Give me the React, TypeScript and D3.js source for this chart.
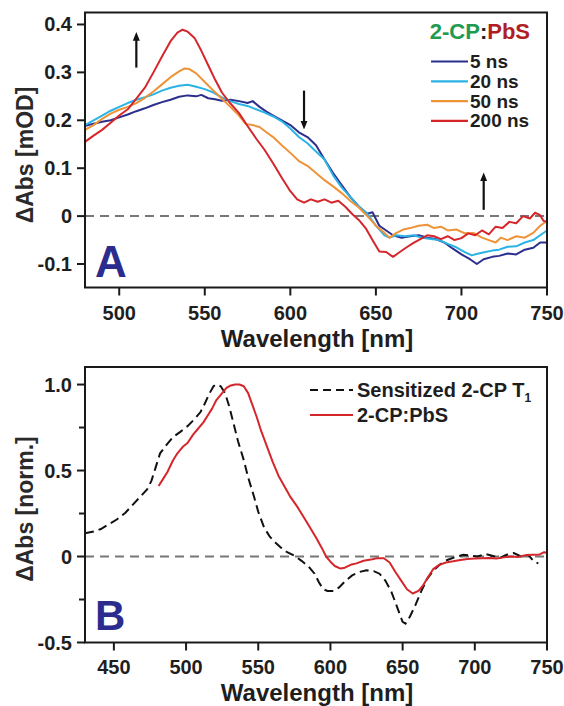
import React from "react";
import * as d3 from "d3";

// ---------- DATA ----------
const xTicksA = [500, 550, 600, 650, 700, 750];
const yTicksA = [0.4, 0.3, 0.2, 0.1, 0, -0.1];
const yTickLabelsA = ["0.4", "0.3", "0.2", "0.1", "0", "-0.1"];
const xTicksB = [450, 500, 550, 600, 650, 700, 750];
const yTicksB = [1.0, 0.5, 0, -0.5];
const yTickLabelsB = ["1.0", "0.5", "0", "-0.5"];
const yMinorTicksB = [0.75, 0.25, -0.25];

const seriesNamesA = ["5 ns", "20 ns", "50 ns", "200 ns"];
const seriesColorsA = ["#2b2e8c", "#2bb3e6", "#ef9338", "#d4262b"];

const s5ns: [number, number][] = [[480,0.188],[485,0.193],[490,0.197],[495,0.2],[500,0.206],[505,0.212],[510,0.219],[515,0.225],[520,0.232],[525,0.238],[530,0.243],[535,0.249],[540,0.252],[545,0.25],[548,0.253],[552,0.246],[556,0.244],[560,0.241],[565,0.243],[570,0.24],[575,0.236],[578,0.24],[582,0.228],[586,0.218],[590,0.21],[595,0.2],[600,0.19],[605,0.175],[610,0.165],[615,0.148],[620,0.118],[625,0.09],[630,0.065],[635,0.04],[640,0.02],[645,0.005],[648,0.008],[652,-0.02],[656,-0.03],[660,-0.04],[665,-0.045],[670,-0.042],[675,-0.04],[680,-0.045],[685,-0.048],[690,-0.055],[695,-0.068],[700,-0.08],[705,-0.09],[709,-0.1],[713,-0.09],[718,-0.085],[722,-0.083],[727,-0.078],[732,-0.08],[737,-0.07],[742,-0.066],[746,-0.055],[750,-0.055]];
const s20ns: [number, number][] = [[480,0.19],[485,0.2],[490,0.21],[495,0.22],[500,0.228],[505,0.236],[510,0.243],[515,0.248],[520,0.254],[525,0.262],[530,0.268],[535,0.272],[540,0.274],[545,0.27],[550,0.265],[555,0.258],[560,0.248],[565,0.24],[570,0.234],[575,0.23],[580,0.223],[585,0.216],[590,0.208],[595,0.198],[600,0.183],[605,0.165],[610,0.152],[615,0.135],[620,0.118],[625,0.085],[630,0.06],[635,0.04],[640,0.02],[645,0.005],[650,-0.02],[655,-0.04],[658,-0.045],[662,-0.04],[667,-0.042],[672,-0.04],[677,-0.045],[682,-0.048],[687,-0.05],[692,-0.058],[697,-0.065],[702,-0.075],[706,-0.082],[710,-0.078],[714,-0.075],[718,-0.072],[722,-0.07],[727,-0.064],[732,-0.063],[737,-0.055],[742,-0.05],[746,-0.04],[750,-0.03]];
const s50ns: [number, number][] = [[480,0.18],[485,0.19],[490,0.203],[495,0.214],[500,0.222],[505,0.228],[510,0.236],[515,0.247],[520,0.26],[525,0.275],[530,0.29],[535,0.302],[538,0.308],[541,0.307],[545,0.298],[550,0.28],[555,0.262],[560,0.245],[565,0.228],[570,0.21],[574,0.192],[578,0.19],[582,0.186],[586,0.175],[590,0.165],[595,0.148],[600,0.132],[605,0.115],[610,0.105],[615,0.09],[620,0.075],[625,0.062],[630,0.048],[635,0.032],[640,0.018],[645,0.0],[650,-0.02],[655,-0.035],[658,-0.045],[662,-0.035],[666,-0.028],[670,-0.025],[675,-0.02],[680,-0.018],[684,-0.025],[688,-0.022],[692,-0.03],[697,-0.028],[702,-0.036],[707,-0.035],[712,-0.045],[716,-0.05],[720,-0.055],[723,-0.045],[727,-0.05],[732,-0.042],[737,-0.045],[742,-0.035],[746,-0.02],[750,-0.01]];
const s200ns: [number, number][] = [[480,0.155],[485,0.168],[490,0.18],[495,0.195],[500,0.21],[505,0.223],[510,0.245],[515,0.268],[520,0.3],[525,0.333],[530,0.365],[534,0.383],[537,0.389],[540,0.385],[544,0.372],[548,0.345],[552,0.315],[556,0.285],[560,0.258],[565,0.235],[570,0.215],[575,0.188],[580,0.162],[585,0.138],[590,0.11],[595,0.08],[600,0.052],[604,0.035],[608,0.028],[612,0.035],[616,0.03],[620,0.035],[624,0.028],[628,0.032],[632,0.02],[636,0.005],[640,-0.008],[644,-0.025],[648,-0.05],[652,-0.074],[656,-0.075],[660,-0.085],[664,-0.075],[668,-0.065],[672,-0.056],[676,-0.048],[680,-0.04],[684,-0.042],[688,-0.048],[692,-0.042],[696,-0.05],[700,-0.046],[704,-0.036],[708,-0.04],[712,-0.03],[716,-0.038],[720,-0.022],[724,-0.025],[728,-0.012],[732,-0.015],[736,0.0],[740,-0.005],[743,0.007],[746,0.002],[748,-0.01],[750,-0.012]];
const seriesA = [s5ns, s20ns, s50ns, s200ns];

// arrows in panel A: [wavelength, from, to]
const arrowsA: [number, number, number][] = [[510, 0.31, 0.375], [608, 0.262, 0.19], [713, 0.013, 0.082]];

const bRed: [number, number][] = [[481,0.41],[484,0.45],[487,0.49],[491,0.56],[494,0.6],[498,0.64],[501,0.66],[505,0.71],[508,0.74],[512,0.78],[515,0.82],[518,0.86],[521,0.91],[525,0.95],[528,0.98],[531,0.995],[534,1.0],[537,1.0],[540,0.99],[543,0.95],[546,0.88],[549,0.81],[552,0.73],[556,0.64],[560,0.55],[564,0.47],[568,0.41],[572,0.35],[577,0.29],[581,0.235],[585,0.18],[590,0.11],[594,0.05],[597,0.0],[600,-0.03],[603,-0.055],[607,-0.07],[610,-0.065],[614,-0.048],[618,-0.04],[623,-0.025],[628,-0.018],[632,-0.01],[637,-0.01],[641,-0.035],[645,-0.09],[649,-0.14],[653,-0.19],[657,-0.215],[661,-0.2],[664,-0.17],[668,-0.115],[671,-0.075],[675,-0.05],[680,-0.035],[685,-0.028],[690,-0.02],[695,-0.015],[700,-0.012],[705,-0.01],[710,-0.008],[715,-0.012],[720,-0.005],[725,0.0],[730,-0.003],[735,0.008],[740,0.01],[745,0.012],[748,0.025],[750,0.02]];
const bBlack: [number, number][] = [[430,0.135],[436,0.145],[441,0.16],[447,0.19],[452,0.215],[458,0.255],[463,0.3],[468,0.345],[473,0.39],[476,0.44],[479,0.52],[482,0.6],[486,0.645],[491,0.695],[496,0.725],[501,0.758],[506,0.8],[510,0.84],[513,0.89],[516,0.945],[519,0.99],[521,1.0],[524,0.99],[527,0.95],[530,0.87],[533,0.77],[536,0.67],[540,0.56],[543,0.46],[547,0.35],[550,0.26],[554,0.17],[558,0.115],[562,0.08],[566,0.05],[570,0.025],[575,0.005],[580,-0.025],[585,-0.06],[589,-0.1],[592,-0.15],[595,-0.19],[598,-0.2],[602,-0.2],[606,-0.18],[610,-0.145],[615,-0.11],[620,-0.09],[625,-0.08],[630,-0.085],[634,-0.1],[638,-0.14],[642,-0.2],[646,-0.29],[650,-0.38],[652,-0.39],[655,-0.35],[659,-0.28],[663,-0.2],[667,-0.13],[671,-0.085],[676,-0.045],[681,-0.02],[686,-0.005],[692,0.01],[697,0.005],[702,0.0],[707,0.015],[712,0.005],[717,-0.01],[722,0.01],[727,0.02],[732,0.0],[737,0.01],[741,-0.03],[744,-0.04]];

const FONT = "'Liberation Sans', Arial, Helvetica, sans-serif";
const TXT = "#1e1e1e";

const L = 85, R = 547;
const A_TOP = 12.5, A_BOT = 287.5;
const B_TOP = 367, B_BOT = 642.5;

export default function App() {
  const xA = d3.scaleLinear().domain([480, 750]).range([L, R]);
  const yA = d3.scaleLinear().domain([-0.149, 0.425]).range([A_BOT, A_TOP]);
  const xB = d3.scaleLinear().domain([430, 750]).range([L, R]);
  const yB = d3.scaleLinear().domain([-0.5, 1.102]).range([B_BOT, B_TOP]);

  const lineA = d3.line<[number, number]>().x(d => xA(d[0])).y(d => yA(d[1]));
  const lineB = d3.line<[number, number]>().x(d => xB(d[0])).y(d => yB(d[1]));

  const tickFont = { fontFamily: FONT, fontWeight: 700, fontSize: 20, fill: TXT } as const;

  return (
    <svg width={564} height={706} style={{ position: "absolute", left: 0, top: 0, background: "#fff" }}>
      <rect x={0} y={0} width={564} height={706} fill="#fff" />
      <defs>
        <marker id="ah" viewBox="0 0 10 10" refX="5" refY="5" markerWidth="4" markerHeight="5" orient="auto">
          <path d="M0,1 L10,5 L0,9 Z" fill="#111" />
        </marker>
      </defs>

      {/* ---------- PANEL A ---------- */}
      <line x1={L} x2={R} y1={yA(0)} y2={yA(0)} stroke="#777" strokeWidth={2} strokeDasharray="9,6" />
      {seriesA.map((s, i) => (
        <path key={i} d={lineA(s) || ""} fill="none" stroke={seriesColorsA[i]} strokeWidth={2} strokeLinejoin="round" />
      ))}
      {arrowsA.map((a, i) => (
        <line key={i} x1={xA(a[0])} x2={xA(a[0])} y1={yA(a[1])} y2={yA(a[2])} stroke="#111" strokeWidth={2.2} markerEnd="url(#ah)" />
      ))}
      <rect x={L} y={A_TOP} width={R - L} height={A_BOT - A_TOP} fill="none" stroke="#1a1a1a" strokeWidth={2} />
      {xTicksA.map(t => (
        <g key={t}>
          <line x1={xA(t)} x2={xA(t)} y1={A_BOT} y2={A_BOT + 8} stroke="#1a1a1a" strokeWidth={2} />
          <text x={xA(t)} y={320} textAnchor="middle" {...tickFont}>{t}</text>
        </g>
      ))}
      {yTicksA.map((t, i) => (
        <g key={t}>
          <line x1={L - 8} x2={L} y1={yA(t)} y2={yA(t)} stroke="#1a1a1a" strokeWidth={2} />
          <text x={72} y={yA(t) + 7} textAnchor="end" {...tickFont}>{yTickLabelsA[i]}</text>
        </g>
      ))}
      <text x={317} y={347} textAnchor="middle" fontFamily={FONT} fontWeight={700} fontSize={24} fill={TXT}>Wavelength [nm]</text>
      <text transform={`translate(33,155) rotate(-90)`} textAnchor="middle" fontFamily={FONT} fontWeight={700} fontSize={23} fill="#2a2a2a">ΔAbs [mOD]</text>
      <text x={95} y={277} fontFamily={FONT} fontWeight={700} fontSize={44} fill="#2c2c8e">A</text>

      {/* legend A */}
      <text x={530} y={39} textAnchor="end" fontFamily={FONT} fontWeight={700} fontSize={22}>
        <tspan fill="#1f9a4f">2-CP</tspan><tspan fill="#222">:</tspan><tspan fill="#b01e24">PbS</tspan>
      </text>
      {seriesNamesA.map((n, i) => (
        <g key={n}>
          <line x1={431} x2={468} y1={61.5 + i * 19.8} y2={61.5 + i * 19.8} stroke={seriesColorsA[i]} strokeWidth={2.2} />
          <text x={470} y={68 + i * 19.8} fontFamily={FONT} fontWeight={700} fontSize={19} fill={TXT}>{n}</text>
        </g>
      ))}

      {/* ---------- PANEL B ---------- */}
      <line x1={L} x2={R} y1={yB(0)} y2={yB(0)} stroke="#777" strokeWidth={2} strokeDasharray="9,6" />
      <path d={lineB(bBlack) || ""} fill="none" stroke="#111" strokeWidth={2} strokeDasharray="9,5" />
      <path d={lineB(bRed) || ""} fill="none" stroke="#d4262b" strokeWidth={2} strokeLinejoin="round" />
      <rect x={L} y={B_TOP} width={R - L} height={B_BOT - B_TOP} fill="none" stroke="#1a1a1a" strokeWidth={2} />
      {xTicksB.map(t => (
        <g key={t}>
          <line x1={xB(t)} x2={xB(t)} y1={B_BOT} y2={B_BOT + 8} stroke="#1a1a1a" strokeWidth={2} />
          <text x={xB(t)} y={674} textAnchor="middle" {...tickFont}>{t}</text>
        </g>
      ))}
      {yTicksB.map((t, i) => (
        <g key={t}>
          <line x1={L - 8} x2={L} y1={yB(t)} y2={yB(t)} stroke="#1a1a1a" strokeWidth={2} />
          <text x={72} y={yB(t) + 7} textAnchor="end" {...tickFont}>{yTickLabelsB[i]}</text>
        </g>
      ))}
      {yMinorTicksB.map(t => (
        <line key={t} x1={L - 6} x2={L} y1={yB(t)} y2={yB(t)} stroke="#1a1a1a" strokeWidth={2} />
      ))}
      <text x={317} y={701} textAnchor="middle" fontFamily={FONT} fontWeight={700} fontSize={24} fill={TXT}>Wavelength [nm]</text>
      <text transform={`translate(33,509) rotate(-90)`} textAnchor="middle" fontFamily={FONT} fontWeight={700} fontSize={23} fill="#2a2a2a">ΔAbs [norm.]</text>
      <text x={95} y={630} fontFamily={FONT} fontWeight={700} fontSize={42} fill="#2c2c8e">B</text>

      {/* legend B */}
      <line x1={310} x2={353} y1={390} y2={390} stroke="#111" strokeWidth={2} strokeDasharray="8,5" />
      <text x={357} y={397} fontFamily={FONT} fontWeight={700} fontSize={20} fill={TXT}>
        Sensitized 2-CP T<tspan fontSize={12} dy={5}>1</tspan>
      </text>
      <line x1={310} x2={353} y1={415} y2={415} stroke="#d4262b" strokeWidth={2.2} />
      <text x={357} y={422} fontFamily={FONT} fontWeight={700} fontSize={20} fill={TXT}>2-CP:PbS</text>
    </svg>
  );
}
